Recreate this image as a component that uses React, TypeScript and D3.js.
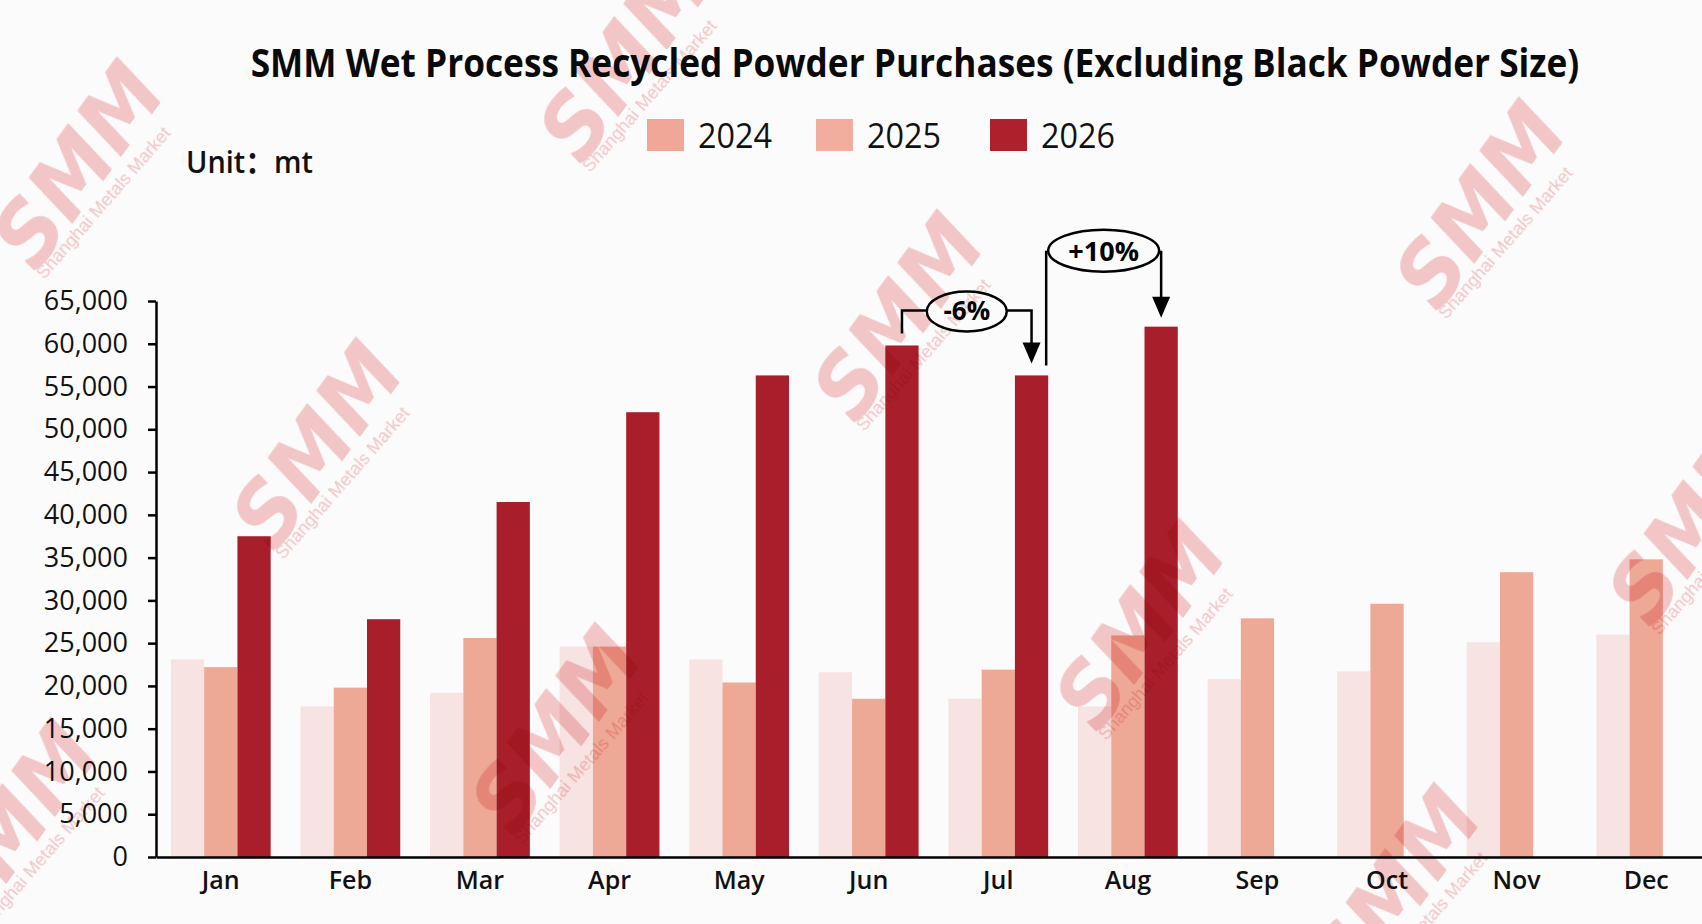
import React, { useEffect, useRef } from "react";
import * as d3 from "d3";

const WIDTH = 1702;
const HEIGHT = 924;
const MARGIN = { top: 301, right: -9, bottom: 67, left: 156 };

const months = ["Jan", "Feb", "Mar", "Apr", "May", "Jun", "Jul", "Aug", "Sep", "Oct", "Nov", "Dec"];
const years = ["2024", "2025", "2026"];
const values2024 = [23100, 17600, 19200, 24600, 23100, 21600, 18500, 17600, 20800, 21700, 25100, 26000];
const values2025 = [22200, 19800, 25600, 24600, 20400, 18500, 21900, 25900, 27900, 29600, 33300, 34800];
const values2026 = [37500, 27800, 41500, 52000, 56300, 59800, 56300, 62000, null, null, null, null];
const yTicks = d3.range(0, 65001, 5000);

const barColors: Record<string, string> = { "2024": "#F7E3E2", "2025": "#EEA996", "2026": "#A81E2A" };
const legendColors: Record<string, string> = { "2024": "#EFA898", "2025": "#F1AE9F", "2026": "#AD202C" };

// watermark centres (decoration only)
const WATERMARKS = [
  [78, 165], [624, 58], [317, 445], [898, 317], [1480, 205],
  [1140, 626], [556, 730], [1693, 521], [12, 825], [1395, 890],
];

const FONT = "'Open Sans', 'Noto Sans', sans-serif";

const App: React.FC = () => {
  const svgRef = useRef<SVGSVGElement | null>(null);

  useEffect(() => {
    const svgElement = svgRef.current;
    if (!svgElement) return;
    const svg = d3.select(svgElement);
    svg.selectAll("*").remove();

    svg.append("rect").attr("width", WIDTH).attr("height", HEIGHT).attr("fill", "#FCFBFB");

    const plotW = WIDTH - MARGIN.left - MARGIN.right;
    const plotH = HEIGHT - MARGIN.top - MARGIN.bottom;

    const x0 = d3.scaleBand<string>().domain(months).range([0, plotW]).paddingInner(0.23).paddingOuter(0.115);
    const x1 = d3.scaleBand<string>().domain(years).range([0, x0.bandwidth()]);
    const y = d3.scaleLinear().domain([0, 65000]).range([plotH, 0]);

    const g = svg.append("g").attr("transform", `translate(${MARGIN.left},${MARGIN.top})`);

    const series: Record<string, (number | null)[]> = {
      "2024": values2024,
      "2025": values2025,
      "2026": values2026,
    };

    years.forEach((yr) => {
      const data = months
        .map((m, i) => ({ m, v: series[yr][i] }))
        .filter((d) => d.v != null) as { m: string; v: number }[];
      g.selectAll(`.bar${yr}`)
        .data(data)
        .enter()
        .append("rect")
        .attr("class", `bar${yr}`)
        .attr("x", (d) => (x0(d.m) as number) + (x1(yr) as number))
        .attr("width", x1.bandwidth())
        .attr("y", (d) => y(d.v))
        .attr("height", (d) => plotH - y(d.v))
        .attr("fill", barColors[yr]);
    });

    // y axis
    g.append("g")
      .call(
        d3.axisLeft(y).tickValues(yTicks).tickSize(8).tickSizeOuter(0).tickPadding(20)
          .tickFormat((d) => d3.format(",")(d as number))
      )
      .call((a) => a.selectAll(".domain, .tick line").attr("stroke", "#000").attr("stroke-width", 2.5))
      .call((a) =>
        a.selectAll(".tick text").attr("fill", "#111").style("font-size", "27px").style("font-family", FONT)
      );

    // x axis
    g.append("g")
      .attr("transform", `translate(0,${plotH})`)
      .call(d3.axisBottom(x0).tickSize(0).tickPadding(14))
      .call((a) => a.select(".domain").attr("stroke", "#000").attr("stroke-width", 2.5))
      .call((a) =>
        a.selectAll(".tick text")
          .attr("fill", "#111")
          .style("font-size", "25px")
          .style("font-weight", 600)
          .style("font-family", FONT)
      );

    // annotations
    const barCenter = (m: string) => (x0(m) as number) + (x1("2026") as number) + x1.bandwidth() / 2;
    const barRight = (m: string) => (x0(m) as number) + (x1("2026") as number) + x1.bandwidth();
    const ann = g.append("g").attr("fill", "none").attr("stroke", "#000").attr("stroke-width", 2.5);
    const arrowHead = (xx: number, tip: number) =>
      g.append("path").attr("d", `M${xx},${tip}L${xx - 9},${tip - 21}L${xx + 9},${tip - 21}Z`).attr("fill", "#000");

    // -6%
    const vJun = values2026[5] as number;
    const vJul = values2026[6] as number;
    const vAug = values2026[7] as number;
    const ax1 = barCenter("Jun");
    const ax2 = barCenter("Jul");
    const lineY = y(vJun) - 35;
    const cx1 = (ax1 + ax2) / 2;
    const tip1 = y(vJul) - 12;
    ann.append("path").attr(
      "d",
      `M${ax1},${y(vJun) - 12}V${lineY}H${cx1 - 40}M${cx1 + 40},${lineY}H${ax2}V${tip1 - 20}`
    );
    ann.append("ellipse").attr("cx", cx1).attr("cy", lineY + 1).attr("rx", 40).attr("ry", 20).attr("fill", "#FCFBFB");
    arrowHead(ax2, tip1);
    g.append("text")
      .attr("x", cx1)
      .attr("y", lineY + 10)
      .attr("text-anchor", "middle")
      .style("font-family", FONT)
      .style("font-weight", 700)
      .style("font-size", "26px")
      .text("-6%");

    // +10%
    const bx1 = barRight("Jul") - 2;
    const bx2 = barCenter("Aug");
    const topY = y(vAug) - 76;
    const cx2 = (bx1 + bx2) / 2;
    const tip2 = y(vAug) - 9;
    ann.append("path").attr("d", `M${bx1},${y(vJul) - 10}V${topY}M${bx2},${topY}V${tip2 - 20}`);
    ann.append("ellipse").attr("cx", cx2).attr("cy", topY).attr("rx", (bx2 - bx1) / 2 - 2).attr("ry", 21).attr("fill", "#FCFBFB");
    arrowHead(bx2, tip2);
    g.append("text")
      .attr("x", cx2)
      .attr("y", topY + 10)
      .attr("text-anchor", "middle")
      .style("font-family", FONT)
      .style("font-weight", 700)
      .style("font-size", "27px")
      .text("+10%");

    // title: squeezed horizontally to the reference's condensed width
    const titleG = svg.append("g");
    const title = titleG
      .append("text")
      .attr("text-anchor", "middle")
      .style("font-family", FONT)
      .style("font-weight", 700)
      .style("font-size", "40px")
      .attr("fill", "#0a0a0a")
      .text("SMM Wet Process Recycled Powder Purchases (Excluding Black Powder Size)");
    const natural = (title.node() as SVGTextElement).getComputedTextLength() || 1600;
    titleG.attr("transform", `translate(915,77) scale(${1329 / natural},1)`);

    // legend
    const legendX = [647, 816, 990];
    years.forEach((yr, i) => {
      const lg = svg.append("g").attr("transform", `translate(${legendX[i]},119)`);
      lg.append("rect").attr("width", 37).attr("height", 32).attr("fill", legendColors[yr]);
      lg.append("text")
        .attr("x", 51)
        .attr("y", 29)
        .attr("textLength", 74)
        .attr("lengthAdjust", "spacingAndGlyphs")
        .style("font-family", FONT)
        .style("font-size", "34px")
        .attr("fill", "#111")
        .text(yr);
    });

    svg.append("text")
      .attr("x", 186)
      .attr("y", 173)
      .attr("textLength", 127)
      .attr("lengthAdjust", "spacingAndGlyphs")
      .style("font-family", "'Open Sans', 'Noto Sans CJK SC', sans-serif")
      .style("font-weight", 600)
      .style("font-size", "31px")
      .attr("fill", "#111")
      .text("Unit：mt");

    // watermarks
    const wm = svg.append("g").style("mix-blend-mode", "multiply").style("pointer-events", "none");
    WATERMARKS.forEach(([wx, wy]) => {
      const w = wm.append("g").attr("transform", `translate(${wx},${wy}) rotate(-54)`);
      w.append("text")
        .attr("text-anchor", "middle")
        .attr("dominant-baseline", "central")
        .attr("textLength", 225)
        .attr("lengthAdjust", "spacingAndGlyphs")
        .style("font-family", "'DejaVu Sans', sans-serif")
        .style("font-weight", 700)
        .style("font-style", "italic")
        .style("font-size", "86px")
        .attr("fill", "#F5C8CA")
        .text("SMM");
      w.append("text")
        .attr("text-anchor", "middle")
        .attr("x", -12)
        .attr("y", 50)
        .attr("transform", "rotate(5)")
        .style("font-family", "'Liberation Sans', Arial, sans-serif")
        .style("font-size", "18px")
        .attr("fill", "#F5C8CA")
        .text("Shanghai Metals Market");
    });
  }, []);

  return (
    <svg
      ref={svgRef}
      width={WIDTH}
      height={HEIGHT}
      style={{ position: "absolute", left: 0, top: 0, display: "block" }}
    />
  );
};

export default App;
